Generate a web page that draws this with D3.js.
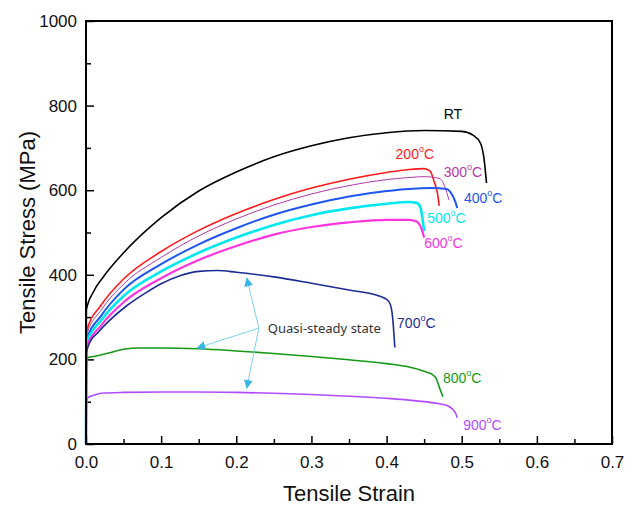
<!DOCTYPE html>
<html>
<head>
<meta charset="utf-8">
<script src="https://cdn.jsdelivr.net/npm/d3@7"></script>
<style>
  body { margin: 0; background: #fff; }
  svg { display: block; }
</style>
</head>
<body>
<div id="chart"></div>
<script>
// strain / stress readings per temperature
const rtStrain = [0, 0.0005, 0.01, 0.023, 0.05, 0.1, 0.15, 0.2, 0.25, 0.3, 0.35, 0.4, 0.45, 0.5, 0.515, 0.525, 0.53, 0.533];
const rtStress = [0, 317, 360, 395, 452, 535, 598, 643, 679, 705, 724, 736, 741, 739, 730, 711, 670, 617];

const t200Strain = [0, 0.0005, 0.02, 0.05, 0.1, 0.15, 0.2, 0.25, 0.3, 0.35, 0.4, 0.43, 0.45, 0.458, 0.463, 0.468, 0.47];
const t200Stress = [0, 266, 328, 390, 455, 505, 545, 578, 605, 626, 642, 649, 651, 645, 622, 590, 563];

const t300Strain = [0, 0.0005, 0.02, 0.05, 0.1, 0.15, 0.2, 0.25, 0.3, 0.35, 0.4, 0.43, 0.45, 0.47, 0.476, 0.48, 0.483];
const t300Stress = [0, 256, 316, 378, 441, 492, 532, 565, 591, 611, 625, 630, 632, 628, 615, 595, 577];

const t400Strain = [0, 0.0005, 0.02, 0.05, 0.1, 0.15, 0.2, 0.25, 0.3, 0.35, 0.4, 0.43, 0.46, 0.48, 0.487, 0.492, 0.494];
const t400Stress = [0, 246, 303, 365, 425, 472, 510, 542, 566, 585, 598, 603, 605, 603, 590, 570, 558];

const t500Strain = [0, 0.0005, 0.02, 0.05, 0.1, 0.15, 0.2, 0.25, 0.3, 0.35, 0.4, 0.43, 0.44, 0.445, 0.448, 0.45];
const t500Stress = [0, 238, 292, 350, 408, 452, 488, 518, 541, 557, 568, 572, 570, 560, 530, 503];

const t600Strain = [0, 0.0005, 0.02, 0.05, 0.1, 0.15, 0.2, 0.25, 0.3, 0.35, 0.4, 0.43, 0.44, 0.445, 0.448, 0.45];
const t600Stress = [0, 228, 280, 335, 392, 435, 468, 495, 513, 524, 530, 530, 526, 515, 500, 488];

const t700Strain = [0, 0.0005, 0.005, 0.015, 0.03, 0.055, 0.08, 0.1, 0.125, 0.15, 0.175, 0.2, 0.25, 0.3, 0.35, 0.39, 0.4, 0.405, 0.408, 0.411];
const t700Stress = [0, 215, 240, 262, 290, 328, 358, 379, 398, 408, 410, 406, 395, 380, 364, 350, 342, 330, 300, 228];

const t800Strain = [0, 0.0005, 0.003, 0.01, 0.03, 0.05, 0.07, 0.1, 0.15, 0.2, 0.25, 0.3, 0.35, 0.4, 0.43, 0.45, 0.46, 0.466, 0.47, 0.475];
const t800Stress = [0, 190, 205, 207, 215, 224, 227, 227, 225, 220, 214, 207, 199, 190, 182, 172, 165, 155, 135, 112];

const t900Strain = [0, 0.0005, 0.003, 0.01, 0.02, 0.05, 0.1, 0.15, 0.2, 0.25, 0.3, 0.35, 0.4, 0.44, 0.47, 0.482, 0.488, 0.492, 0.494];
const t900Stress = [0, 100, 110, 115, 120, 122, 123, 123, 122, 120, 117, 113, 108, 102, 95, 90, 82, 72, 62];

const seriesNames = ["RT", "200", "300", "400", "500", "600", "700", "800", "900"];
const seriesStrain = [rtStrain, t200Strain, t300Strain, t400Strain, t500Strain, t600Strain, t700Strain, t800Strain, t900Strain];
const seriesStress = [rtStress, t200Stress, t300Stress, t400Stress, t500Stress, t600Stress, t700Stress, t800Stress, t900Stress];

const xTicks = [0, 0.1, 0.2, 0.3, 0.4, 0.5, 0.6, 0.7];
const yTicks = [0, 200, 400, 600, 800, 1000];

const noteText = "Quasi-steady state";

// look of each curve + where its label sits (data units)
const style = {
    "RT":  { color: "#000000", width: 1.6, lx: 0.476, ly: 778 },
    "200": { color: "#ff1a1a", width: 1.6, lx: 0.412, ly: 683 },
    "300": { color: "#b03aa6", width: 1.0, lx: 0.476, ly: 640 },
    "400": { color: "#1f55f0", width: 2.0, lx: 0.503, ly: 580 },
    "500": { color: "#00e8f0", width: 2.6, lx: 0.454, ly: 532 },
    "600": { color: "#ff33e0", width: 2.2, lx: 0.450, ly: 473 },
    "700": { color: "#1c2c94", width: 1.6, lx: 0.414, ly: 284 },
    "800": { color: "#169a16", width: 1.6, lx: 0.475, ly: 154 },
    "900": { color: "#b24cff", width: 1.6, lx: 0.502, ly: 43 }
};

const margin = { top: 21, right: 28, bottom: 63, left: 86 },
    width = 640 - margin.left - margin.right,
    height = 507 - margin.top - margin.bottom;

const svg = d3.select("#chart")
    .append("svg")
    .attr("width", 640)
    .attr("height", 507)
    .style("font-family", "'Liberation Sans', Arial, sans-serif");

const g = svg.append("g")
    .attr("transform", `translate(${margin.left},${margin.top})`);

const x = d3.scaleLinear().domain([0, 0.7]).range([0, width]);
const y = d3.scaleLinear().domain([0, 1000]).range([height, 0]);

// minor ticks (inward)
g.append("g")
    .attr("transform", `translate(0,${height})`)
    .call(d3.axisBottom(x).tickValues(d3.range(0.05, 0.7, 0.1)).tickSize(-5).tickFormat(""))
    .call(a => a.select(".domain").remove())
    .selectAll("line").attr("stroke", "#000").attr("stroke-width", 1.5);
g.append("g")
    .call(d3.axisLeft(y).tickValues(d3.range(100, 1000, 200)).tickSize(-5).tickFormat(""))
    .call(a => a.select(".domain").remove())
    .selectAll("line").attr("stroke", "#000").attr("stroke-width", 1.5);

// major ticks
const xAxis = g.append("g")
    .attr("transform", `translate(0,${height})`)
    .call(d3.axisBottom(x).tickValues(xTicks).tickSize(-8).tickPadding(12).tickFormat(d3.format(".1f")));
xAxis.select(".domain").remove();
xAxis.selectAll("line").attr("stroke", "#000").attr("stroke-width", 1.5);
xAxis.selectAll("text").attr("font-size", 17).attr("fill", "#111").attr("font-family", "'Liberation Sans', Arial, sans-serif");

const yAxis = g.append("g")
    .call(d3.axisLeft(y).tickValues(yTicks).tickSize(-8).tickPadding(9).tickFormat(d3.format("d")));
yAxis.select(".domain").remove();
yAxis.selectAll("line").attr("stroke", "#000").attr("stroke-width", 1.5);
yAxis.selectAll("text").attr("font-size", 17).attr("fill", "#111").attr("font-family", "'Liberation Sans', Arial, sans-serif");

// curves
const line = d3.line()
    .x(d => x(d[0]))
    .y(d => y(d[1]))
    .curve(d3.curveMonotoneX);

seriesNames.forEach((name, i) => {
    const pts = seriesStrain[i].map((s, j) => [s, seriesStress[i][j]]);
    g.append("path")
        .datum(pts)
        .attr("fill", "none")
        .attr("stroke", style[name].color)
        .attr("stroke-width", style[name].width)
        .attr("stroke-linejoin", "round")
        .attr("d", line);
});

// frame
g.append("rect")
    .attr("width", width)
    .attr("height", height)
    .attr("fill", "none")
    .attr("stroke", "#000")
    .attr("stroke-width", 2);

// curve labels
seriesNames.forEach(name => {
    const s = style[name];
    const t = g.append("text")
        .attr("x", x(s.lx))
        .attr("y", y(s.ly))
        .attr("font-size", 14)
        .attr("fill", s.color)
        .attr("dominant-baseline", "middle");
    if (name === "RT") {
        t.text("RT");
    } else {
        t.append("tspan").text(name);
        t.append("tspan").attr("font-size", 9).attr("dy", -5).text("o");
        t.append("tspan").attr("dy", 5).text("C");
    }
});

// quasi-steady state annotation
const arrowFrom = [0.230, 274];
const arrowTo = [[0.214, 392], [0.148, 227], [0.214, 132]];

svg.append("defs").append("marker")
    .attr("id", "head")
    .attr("viewBox", "0 0 10 10")
    .attr("refX", 9).attr("refY", 5)
    .attr("markerWidth", 9).attr("markerHeight", 9)
    .attr("markerUnits", "userSpaceOnUse")
    .attr("orient", "auto")
    .append("path")
    .attr("d", "M0,0L10,5L0,10Z")
    .attr("fill", "#3bb4e6");

arrowTo.forEach(p => {
    g.append("line")
        .attr("x1", x(arrowFrom[0])).attr("y1", y(arrowFrom[1]))
        .attr("x2", x(p[0])).attr("y2", y(p[1]))
        .attr("stroke", "#7fd0f2")
        .attr("stroke-width", 1)
        .attr("marker-end", "url(#head)");
});

g.append("text")
    .attr("x", x(arrowFrom[0]) + 9)
    .attr("y", y(arrowFrom[1]) + 1)
    .attr("dominant-baseline", "middle")
    .attr("font-size", 13)
    .attr("font-family", "'Noto Sans', 'Open Sans', sans-serif")
    .attr("fill", "#333")
    .text(noteText);

// axis titles
svg.append("text")
    .attr("x", margin.left + width / 2)
    .attr("y", 501)
    .attr("text-anchor", "middle")
    .attr("font-size", 22)
    .attr("fill", "#111")
    .text("Tensile Strain");

svg.append("text")
    .attr("transform", `translate(35,${margin.top + height / 2}) rotate(-90)`)
    .attr("text-anchor", "middle")
    .attr("font-size", 22)
    .attr("fill", "#111")
    .text("Tensile Stress (MPa)");
</script>
</body>
</html>
